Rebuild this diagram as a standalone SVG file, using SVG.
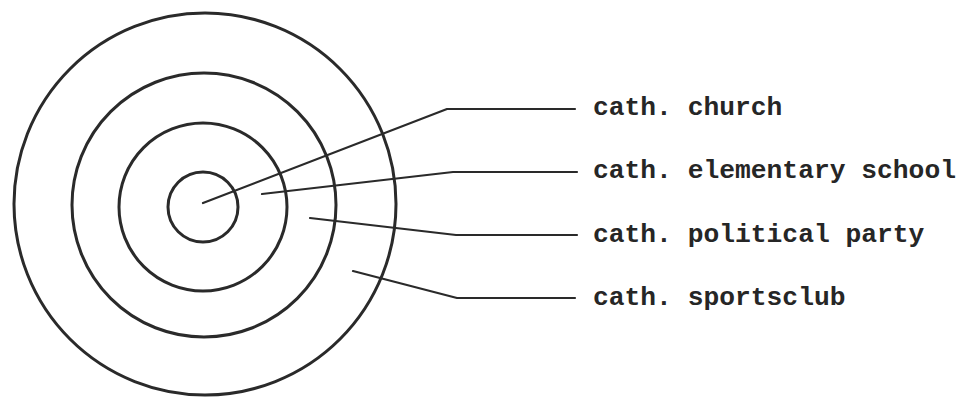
<svg xmlns="http://www.w3.org/2000/svg" width="960" height="397" viewBox="0 0 960 397">
<style>
.ring{fill:none;stroke:#2a2a2a;stroke-width:3}
.lead{fill:none;stroke:#2a2a2a;stroke-width:2.2;stroke-linejoin:round;stroke-linecap:round}
.lbl{font-family:"Liberation Mono","Courier New",monospace;font-size:26.3px;font-weight:bold;fill:#262626}
</style>
<rect width="960" height="397" fill="#fff"/>
<g id="rings">
<circle id="ring-sportsclub" class="ring" cx="205" cy="204" r="191"/>
<circle id="ring-party" class="ring" cx="204" cy="205" r="132"/>
<circle id="ring-school" class="ring" cx="203" cy="207" r="84"/>
<circle id="ring-church" class="ring" cx="203" cy="207" r="35"/>
</g>
<g id="connectors">
<polyline class="lead" points="203,203 447,109 575,109"/>
<polyline class="lead" points="262,194 453,172 577,172"/>
<polyline class="lead" points="310,218 456,235 577,235"/>
<polyline class="lead" points="353,271 457,298 575,298"/>
</g>
<g id="labels">
<text id="label-church" class="lbl" x="593" y="115">cath. church</text>
<text id="label-school" class="lbl" x="593" y="178">cath. elementary school</text>
<text id="label-party" class="lbl" x="593" y="242">cath. political party</text>
<text id="label-sportsclub" class="lbl" x="593" y="305">cath. sportsclub</text>
</g>
</svg>
